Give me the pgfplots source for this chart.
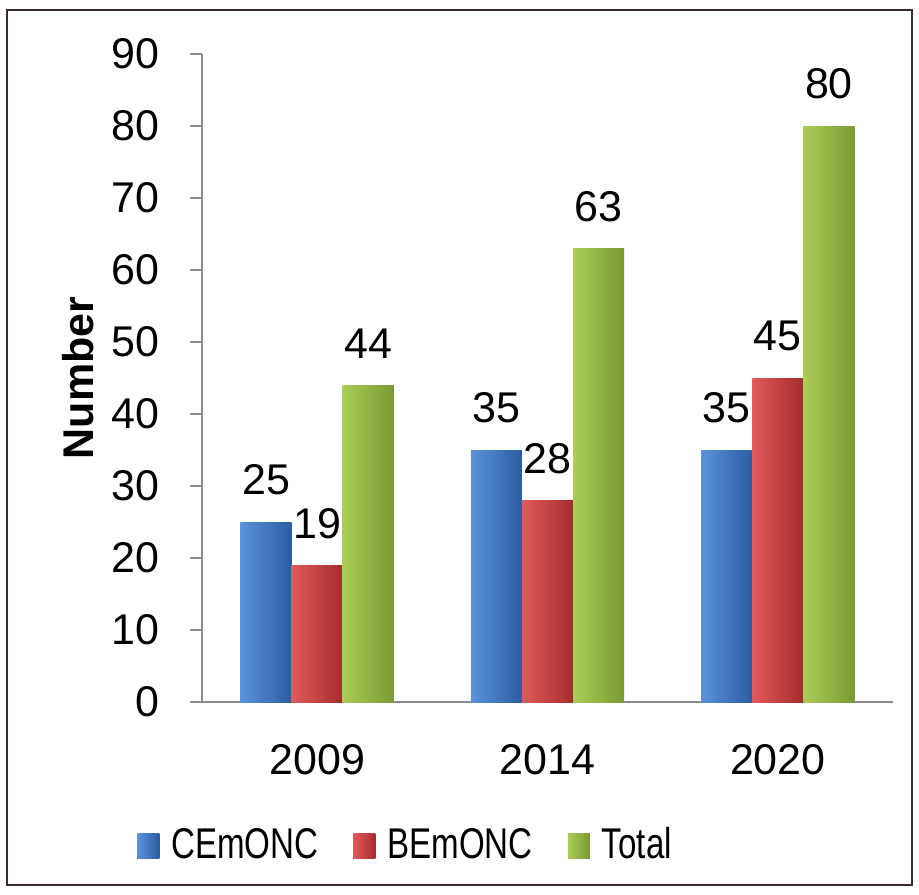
\documentclass[border=0pt]{standalone}
\usepackage{pgfplots}
\pgfplotsset{compat=1.18}
\usepackage{fontspec}
\setmainfont{Liberation Sans}
\newfontfamily\legfont[FakeStretch=0.77]{Liberation Sans}
\definecolor{axgray}{HTML}{8C8C8C}
\definecolor{bL}{HTML}{5A92DC}\definecolor{bM}{HTML}{3E78C8}\definecolor{bR}{HTML}{2B5CA2}
\definecolor{rL}{HTML}{E25A5A}\definecolor{rM}{HTML}{D03D3D}\definecolor{rR}{HTML}{A42C2C}
\definecolor{gL}{HTML}{AACD56}\definecolor{gM}{HTML}{97B844}\definecolor{gR}{HTML}{7A9933}
\pgfplotsset{
  blueb/.style={draw=none, left color=bL, middle color=bM, right color=bR, bar shift=-0.222},
  redb/.style={draw=none, left color=rL, middle color=rM, right color=rR, bar shift=0},
  greenb/.style={draw=none, left color=gL, middle color=gM, right color=gR, bar shift=0.222},
}
\begin{document}
\fontsize{21.5}{26}\selectfont
\begin{tikzpicture}
\begin{axis}[
  scale only axis,
  width=345.5pt, height=324pt,
  ybar, bar width=0.222,
  xmin=-0.5, xmax=2.5, ymin=0, ymax=90,
  /pgf/number format/assume math mode=true,
  axis x line=bottom, axis y line=left,
  axis line style={axgray, line width=1pt, -},
  tick style={axgray, line width=1pt},
  tick align=outside,
  major tick length=6pt,
  ytick={0,10,...,90},
  xtick={0,1,2}, xticklabels={2009,2014,2020},
  x tick style={draw=none},
  extra x ticks={-0.5,0.5,1.5,2.5}, extra x tick labels={},
  extra x tick style={tick style={axgray, line width=1pt}},
  yticklabel style={xshift=-8pt},
  xticklabel style={yshift=-8pt},
  ylabel={\textbf{Number}},
  ylabel style={at={(axis description cs:-0.1795,0.5)}, anchor=center},
  nodes near coords,
  every node near coord/.append style={anchor=south, yshift=6pt, font=\fontsize{21.5}{26}\selectfont},
  legend columns=3,
  legend style={draw=none, at={(axis description cs:0.296,-0.223)}, anchor=center,
    font=\legfont\fontsize{21.5}{26}\selectfont,
    /tikz/every even column/.append style={column sep=15.5pt},
    /tikz/every odd column/.append style={column sep=4pt}},
  legend image code/.code={\fill[#1] (0pt,-6pt) rectangle (11pt,6.5pt);},
  enlarge y limits=false,
]
\coordinate (o) at (rel axis cs:0,0);
% CEmONC
\addplot[blueb] coordinates {(0,25)};
\addlegendentry{CEmONC}
\addplot[blueb, forget plot] coordinates {(1,35)};
\addplot[blueb, forget plot] coordinates {(2,35)};
% BEmONC
\addplot[redb] coordinates {(0,19)};
\addlegendentry{BEmONC}
\addplot[redb, forget plot] coordinates {(1,28)};
\addplot[redb, forget plot] coordinates {(2,45)};
% Total
\addplot[greenb] coordinates {(0,44)};
\addlegendentry{Total}
\addplot[greenb, forget plot] coordinates {(1,63)};
\addplot[greenb, forget plot] coordinates {(2,80)};
\end{axis}
\draw[draw={rgb,255:red,58;green,42;blue,42}, line width=1pt] ([shift={(-97.5pt,-91.5pt)}]o) rectangle ([shift={(355pt,346pt)}]o);
\useasboundingbox ([shift={(-101pt,-96pt)}]o) rectangle ([shift={(358.5pt,351pt)}]o);
\end{tikzpicture}
\end{document}
